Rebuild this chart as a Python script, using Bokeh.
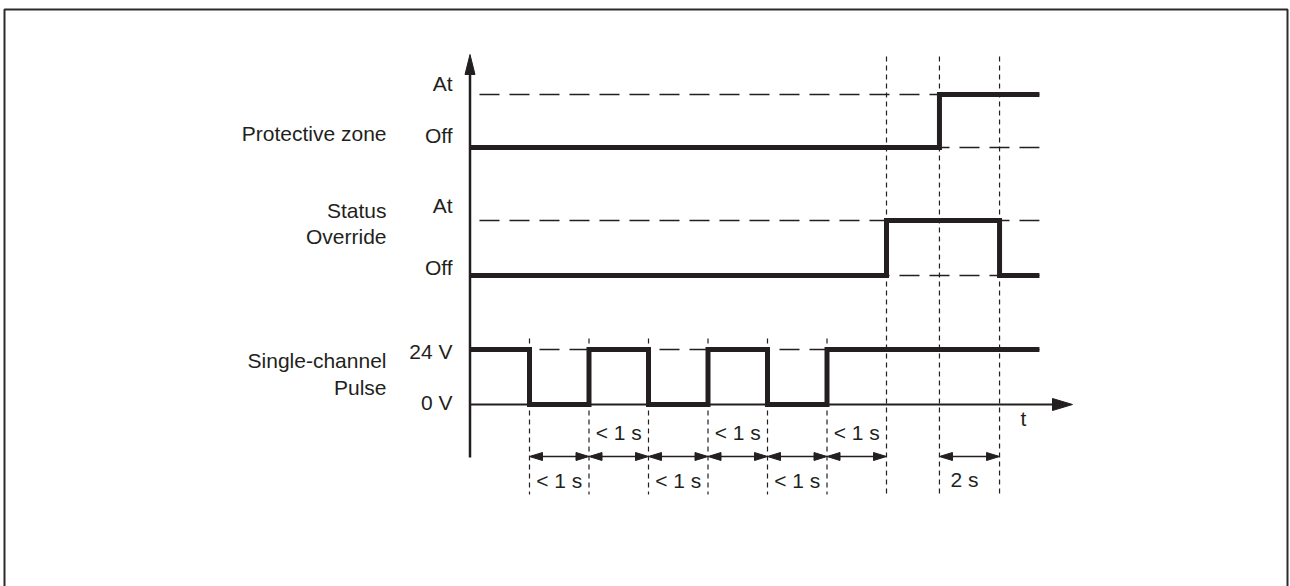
from bokeh.plotting import figure
from bokeh.models import Range1d
from bokeh.core.properties import value
from bokeh.embed import file_html
from bokeh.resources import INLINE

# ---------------- data ----------------
# time in "interval" units (one unit = one "< 1 s" interval)
row_names = [["Protective zone"], ["Status", "Override"], ["Single-channel", "Pulse"]]
level_low_labels = ["Off", "Off", "0 V"]
level_high_labels = ["At", "At", "24 V"]

zone_t = [0.0, 7.89, 9.57]
zone_state = [0, 1, 1]
status_t = [0.0, 7.0, 8.90, 9.57]
status_state = [0, 1, 0, 0]
pulse_t = [0.0, 1, 2, 3, 4, 5, 6, 9.57]
pulse_state = [1, 0, 1, 0, 1, 0, 1, 1]

interval_edges = [1, 2, 3, 4, 5, 6, 7]
interval_labels = ["< 1 s", "< 1 s", "< 1 s", "< 1 s", "< 1 s", "< 1 s"]
interval_label_side = ["below", "above", "below", "above", "below", "above"]
hold_edges = [7.89, 8.90]
hold_label = "2 s"
time_label = "t"

# ---------------- layout (pixels) ----------------
W, H = 1290, 586
FIG_X0, FIG_Y0 = 0, 0  # page position of the figure's top-left corner
ORIGIN_PX = 469.5      # page x of t = 0
UNIT_PX = 59.5         # px per time unit
AXIS_Y_PX = 404        # page y of time axis
SX = 1.0 / UNIT_PX     # data units per px horizontally

def tx(page_x):
    return (page_x - ORIGIN_PX) / UNIT_PX

def ty(page_y):
    return AXIS_Y_PX - page_y

row_low = [ty(147), ty(275), ty(404)]
row_high = [ty(94), ty(220), ty(349)]
low_label_y = [ty(135), ty(267), ty(402)]
high_label_y = [ty(83), ty(205), ty(351)]
name_y = [[ty(133)], [ty(210), ty(236)], [ty(360), ty(387)]]

INK = "#231f20"
FONT = value("Liberation Sans")
FS = "21px"

p = figure(width=W, height=H, output_backend="svg", toolbar_location=None,
           x_range=Range1d(tx(FIG_X0), tx(FIG_X0 + W)),
           y_range=Range1d(ty(FIG_Y0 + H), ty(FIG_Y0)),
           x_axis_type=None, y_axis_type=None, min_border=0)
p.grid.visible = False
p.outline_line_color = None
p.background_fill_color = "white"
p.border_fill_color = "white"

# frame border
p.line([tx(4), tx(4), tx(1287), tx(1287)], [ty(700), ty(9), ty(9), ty(700)],
       line_color="#2b2b2b", line_width=2)

# horizontal dashed reference levels
x_dash0 = tx(479)
x_end = zone_t[-1]
for i in range(3):
    for yy in ([row_low[i], row_high[i]] if i < 2 else [row_high[i]]):
        p.line([x_dash0, x_end], [yy, yy], line_color=INK, line_width=1.3,
               line_dash="20 10")

# vertical dashed markers
y_bot = ty(494)
for e in interval_edges[:-1]:
    p.line([e, e], [ty(338), y_bot], line_color=INK, line_width=1.2, line_dash="5 4")
for e in [interval_edges[-1]] + hold_edges:
    p.line([e, e], [ty(56), y_bot], line_color=INK, line_width=1.2, line_dash="5 4")

# axes
p.line([0, 0], [ty(457), ty(70)], line_color=INK, line_width=2.5)
p.patch([0, -5 * SX, 5 * SX], [ty(54), ty(74), ty(74)], fill_color=INK, line_color=INK)
p.line([0, tx(1056)], [0, 0], line_color=INK, line_width=2.2)
p.patch([tx(1072), tx(1052), tx(1052)], [0, 6, -6], fill_color=INK, line_color=INK)

# signals
for ts, st, i in [(zone_t, zone_state, 0), (status_t, status_state, 1), (pulse_t, pulse_state, 2)]:
    ys = [row_low[i] + s * (row_high[i] - row_low[i]) for s in st]
    p.step(ts, ys, mode="after", line_color=INK, line_width=5, line_join="miter")

# level labels & row names
lx = tx(452)
p.text(x=[lx] * 3, y=low_label_y, text=level_low_labels, text_align="right",
       text_baseline="middle", text_font=FONT, text_font_size=FS, text_color=INK)
p.text(x=[lx] * 3, y=high_label_y, text=level_high_labels, text_align="right",
       text_baseline="middle", text_font=FONT, text_font_size=FS, text_color=INK)
nx, ny, nt = [], [], []
for lines, ys in zip(row_names, name_y):
    for s, yy in zip(lines, ys):
        nx.append(tx(386)); ny.append(yy); nt.append(s)
p.text(x=nx, y=ny, text=nt, text_align="right", text_baseline="middle",
       text_font=FONT, text_font_size=FS, text_color=INK)

# dimension arrows
ARROW_Y = ty(456)
HL, HW = 13, 4
def dim_arrow(a, b):
    p.line([a + 2 * SX, b - 2 * SX], [ARROW_Y, ARROW_Y], line_color=INK, line_width=1.5)
    p.patches([[a, a + HL * SX, a + HL * SX], [b, b - HL * SX, b - HL * SX]],
              [[ARROW_Y, ARROW_Y + HW, ARROW_Y - HW], [ARROW_Y, ARROW_Y + HW, ARROW_Y - HW]],
              fill_color=INK, line_color=INK)

lab_x, lab_y, lab_t = [], [], []
for k in range(len(interval_labels)):
    a, b = interval_edges[k], interval_edges[k + 1]
    dim_arrow(a, b)
    lab_x.append((a + b) / 2)
    lab_y.append(ty(432) if interval_label_side[k] == "above" else ty(480))
    lab_t.append(interval_labels[k])
dim_arrow(hold_edges[0], hold_edges[1])
lab_x.append(tx(964)); lab_y.append(ty(479)); lab_t.append(hold_label)
p.text(x=lab_x, y=lab_y, text=lab_t, text_align="center", text_baseline="middle",
       text_font=FONT, text_font_size=FS, text_color=INK)

p.text(x=[tx(1023)], y=[ty(418)], text=[time_label], text_align="center",
       text_baseline="middle", text_font=FONT, text_font_size=FS, text_color=INK)

open("out.html", "w").write(file_html(p, INLINE))
